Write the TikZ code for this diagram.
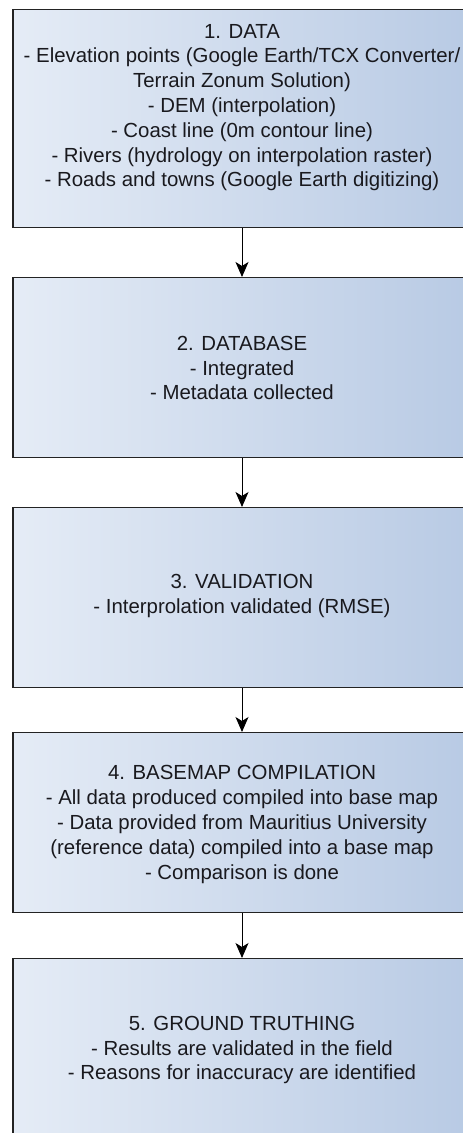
\documentclass[tikz,border=0pt]{standalone}
\usepackage{fontspec}
\setmainfont{Liberation Sans}
\usetikzlibrary{arrows.meta}
\definecolor{boxleft}{RGB}{229,236,246}
\definecolor{boxright}{RGB}{184,202,228}
\definecolor{edgegray}{RGB}{35,35,35}
\definecolor{txtgray}{RGB}{25,25,30}
\tikzset{
  stagebox/.style={draw=edgegray, line width=1.3pt, rectangle,
    left color=boxleft, right color=boxright,
    minimum width=458pt, inner sep=0pt, anchor=north},
  stagetext/.style={text=txtgray, align=center, inner sep=0pt,
    font=\fontsize{20.4}{24.8}\selectfont},
  flow/.style={draw=black, line width=1pt,
    -{Stealth[length=15pt,width=13pt,inset=4pt]}}
}
\begin{document}
\begin{tikzpicture}[x=1pt,y=1pt]
\useasboundingbox (0,0) rectangle (463,-1133);
\clip (0,0) rectangle (463,-1133);
\fill[white] (0,0) rectangle (463,-1133);

% stage boxes
\node[stagebox, minimum height=218pt] (b1) at (242,-9) {};
\node[stagebox, minimum height=180pt] (b2) at (242,-277) {};
\node[stagebox, minimum height=180pt] (b3) at (242,-507) {};
\node[stagebox, minimum height=180pt] (b4) at (242,-732) {};
\node[stagebox, minimum height=180pt] (b5) at (242,-958) {};

% stage descriptions
\node[stagetext] (t1) at (242,-107.5) {1. DATA\\
- Elevation points (Google Earth/TCX Converter/\\
Terrain Zonum Solution)\\
- DEM (interpolation)\\
- Coast line (0m contour line)\\
- Rivers (hydrology on interpolation raster)\\
- Roads and towns (Google Earth digitizing)};
\node[stagetext] (t2) at (242,-368) {2. DATABASE\\
- Integrated\\
- Metadata collected};
\node[stagetext] (t3) at (242,-596) {3. VALIDATION\\
- Interprolation validated (RMSE)};
\node[stagetext] (t4) at (242,-824.5) {4. BASEMAP COMPILATION\\
- All data produced compiled into base map\\
- Data provided from Mauritius University\\
(reference data) compiled into a base map\\
- Comparison is done};
\node[stagetext] (t5) at (242,-1050) {5. GROUND TRUTHING\\
- Results are validated in the field\\
- Reasons for inaccuracy are identified};

% flow arrows
\draw[flow] (b1.south) -- (b2.north);
\draw[flow] (b2.south) -- (b3.north);
\draw[flow] (b3.south) -- (b4.north);
\draw[flow] (b4.south) -- (b5.north);
\end{tikzpicture}
\end{document}
